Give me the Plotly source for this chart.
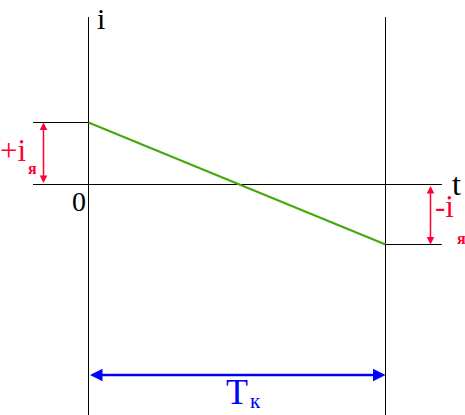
import plotly.graph_objects as go

# Diagram data (t in units of T_k, i in units of i_я)
t_start, t_end = 0.0, 1.0          # T_k interval
i_values = [1.0, -0.968]           # current at t=0 and t=T_k
t_values = [t_start, t_end]
axis_t = [-0.1869, 1.190]          # horizontal t-axis extent
vert_top = 2.70                    # top of vertical lines
t_range = [-0.29798, 1.26768]
i_range = [-3.71774, 2.97581]
red_arrow_left_t = -0.1515
red_arrow_right_t = 1.1515
blue_arrow_i = -3.073

BLACK = "#000000"
GREEN = "#44a80a"
RED = "#ff0033"
BLUE = "#0000ff"
FONT = "Liberation Serif"

fig = go.Figure()

def seg(x, y, color, width):
    fig.add_trace(go.Scatter(x=x, y=y, mode="lines",
                             line=dict(color=color, width=width),
                             hoverinfo="skip", showlegend=False))

# vertical lines at t=0 and t=T_k
seg([t_start, t_start], [vert_top, i_range[0]], BLACK, 1)
seg([t_end, t_end], [vert_top, i_range[0]], BLACK, 1)
# t axis
seg(axis_t, [0, 0], BLACK, 1)
# level marks
seg([axis_t[0], t_start], [i_values[0], i_values[0]], BLACK, 1)
seg([t_end, axis_t[1]], [i_values[1], i_values[1]], BLACK, 1)
# current line
seg(t_values, i_values, GREEN, 2)

def arrow(x0, y0, x1, y1, color, width):
    fig.add_annotation(x=x1, y=y1, ax=x0, ay=y0, xref="x", yref="y",
                       axref="x", ayref="y", text="", showarrow=True,
                       arrowhead=2, startarrowhead=2, arrowside="end+start",
                       arrowsize=1, startarrowsize=1,
                       arrowwidth=width, arrowcolor=color,
                       standoff=0, startstandoff=0)

arrow(red_arrow_left_t, 0, red_arrow_left_t, i_values[0], RED, 1.5)
arrow(red_arrow_right_t, 0, red_arrow_right_t, i_values[1], RED, 1.5)
arrow(t_start, blue_arrow_i, t_end, blue_arrow_i, BLUE, 2.5)

W, H = 465, 415

def label(x, y, text, color, size, xanchor="center", yanchor="middle", ypaper=None):
    fig.add_annotation(x=x / W, y=(1 - y / H) if ypaper is None else ypaper,
                       xref="paper", yref="paper", text=text,
                       showarrow=False, xanchor=xanchor, yanchor=yanchor,
                       font=dict(family=FONT, size=size, color=color))

label(101, 0, "i", BLACK, 30, yanchor="top", ypaper=1)
label(456, 184, "t", BLACK, 32)
label(79, 202, "0", BLACK, 28)
label(28, 150, "+i", RED, 31, xanchor="right")
label(26, 168, "<b>я</b>", RED, 16, xanchor="left")
label(456, 206, "-i", RED, 31, xanchor="right")
label(455, 238, "<b>я</b>", RED, 16, xanchor="left")
label(250, 392, "T", BLUE, 36, xanchor="right")
label(248, 0, "к", BLUE, 21, xanchor="left", yanchor="bottom", ypaper=0)

fig.update_layout(
    width=W, height=H, margin=dict(l=0, r=0, t=0, b=0),
    paper_bgcolor="white", plot_bgcolor="white",
    xaxis=dict(range=t_range, visible=False, fixedrange=True),
    yaxis=dict(range=i_range, visible=False, fixedrange=True),
)

fig.write_html(
    "out.html",
    config={"displayModeBar": False},
    post_script="document.body.style.margin='0px';"
                "document.body.style.overflow='hidden';",
)
